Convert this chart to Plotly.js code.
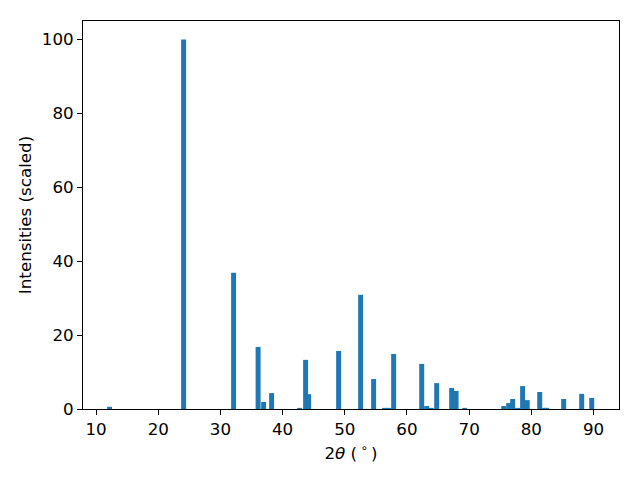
<!DOCTYPE html>
<html>
<head>
<meta charset="utf-8">
<script src="https://cdn.plot.ly/plotly-3.0.1.min.js"></script>
<style>html,body{margin:0;padding:0;background:#fff;}#chart{width:640px;height:480px;}</style>
</head>
<body>
<div id="chart"></div>
<script>
const twoTheta = [12.17, 24.08, 32.12, 36.06, 36.95, 38.23, 42.74, 43.7, 44.19, 49.01, 52.55, 54.64, 56.4, 57.06, 57.86, 62.37, 63.17, 63.9, 64.78, 67.19, 67.9, 69.28, 75.56, 76.36, 77.0, 77.81, 78.6, 79.34, 81.35, 82.15, 82.47, 85.2, 88.1, 89.71];
const intensities = [0.6, 100, 36.9, 16.8, 1.9, 4.3, 0.3, 13.3, 4.0, 15.7, 30.9, 8.1, 0.3, 0.3, 14.9, 12.2, 0.8, 0.3, 7.0, 5.7, 4.9, 0.3, 0.8, 1.6, 2.7, 0.3, 6.2, 2.4, 4.6, 0.3, 0.3, 2.7, 4.1, 3.0];
const xTicks = [10, 20, 30, 40, 50, 60, 70, 80, 90];
const yTicks = [0, 20, 40, 60, 80, 100];

const font = {family: 'DejaVu Sans, sans-serif', size: 16.7, color: '#000'};
Plotly.newPlot('chart', [{
  type: 'bar',
  x: twoTheta,
  y: intensities,
  width: 0.8,
  marker: {color: '#1f77b4', line: {width: 0}},
  hoverinfo: 'none'
}], {
  width: 640, height: 480,
  margin: {l: 83, r: 21, t: 21, b: 71, pad: 0},
  paper_bgcolor: '#fff', plot_bgcolor: '#fff',
  font: font,
  showlegend: false,
  xaxis: {
    range: [7.9, 94.1],
    tickmode: 'array', tickvals: xTicks, ticktext: xTicks.map(String),
    ticks: 'outside', ticklen: 5, tickwidth: 1, tickcolor: '#000',
    showgrid: false, zeroline: false,
    showline: true, linecolor: '#000', linewidth: 1, mirror: true,
    tickfont: font,
    title: {text: '2<i>θ</i> (\u2009<sup>∘</sup>\u2009)', font: font, standoff: 9}
  },
  yaxis: {
    range: [0, 105],
    tickmode: 'array', tickvals: yTicks, ticktext: yTicks.map(String),
    ticks: 'outside', ticklen: 5, tickwidth: 1, tickcolor: '#000',
    showgrid: false, zeroline: false,
    showline: true, linecolor: '#000', linewidth: 1, mirror: true,
    tickfont: font,
    title: {text: 'Intensities (scaled)', font: font, standoff: 5}
  }
}, {staticPlot: true, displayModeBar: false});
</script>
</body>
</html>
